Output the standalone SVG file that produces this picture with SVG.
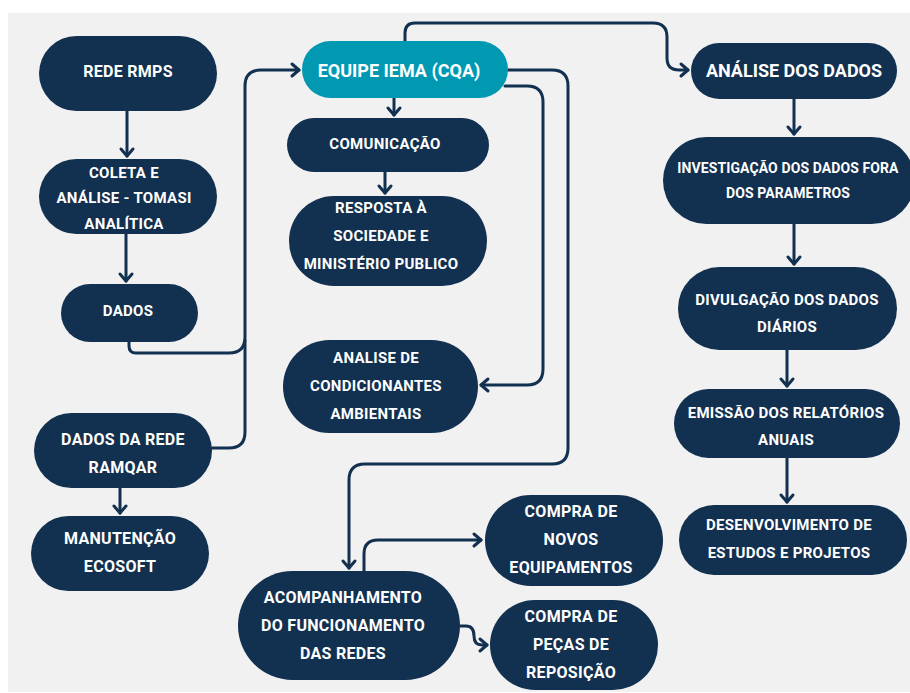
<svg xmlns="http://www.w3.org/2000/svg" width="910" height="693" viewBox="0 0 910 693">
<style>
.n{fill:#12304f}
.t{fill:#ffffff;font-family:Roboto,"Liberation Sans",sans-serif;font-weight:700;font-size:15px;letter-spacing:0.3px;text-anchor:middle}
.t16{font-size:16px}
.c{fill:none;stroke:#12304f;stroke-width:3;stroke-linecap:round;stroke-linejoin:round}
</style>
<defs>
<marker id="a" markerUnits="userSpaceOnUse" orient="auto" markerWidth="20" markerHeight="20" refX="0" refY="0" viewBox="-10 -10 20 20" overflow="visible">
<path d="M-7,-6 L0,0 L-7,6" fill="none" stroke="#12304f" stroke-width="3" stroke-linecap="round" stroke-linejoin="round"/>
</marker>
</defs>
<rect x="0" y="0" width="910" height="693" fill="#ffffff"/>
<rect x="8" y="13" width="902" height="679" fill="#f1f1f1"/>
<g id="connectors">
<path class="c" marker-end="url(#a)" d="M127,111 V156"/>
<path class="c" marker-end="url(#a)" d="M126,234 V281"/>
<path class="c" marker-end="url(#a)" d="M129,342 V346 Q129,353 136,353 H229 Q245,353 245,337 V86 Q245,70 261,70 H299"/>
<path class="c" d="M212,448 H229 Q245,448 245,432 V340"/>
<path class="c" marker-end="url(#a)" d="M120,488 V513"/>
<path class="c" marker-end="url(#a)" d="M394,98 V115"/>
<path class="c" marker-end="url(#a)" d="M385,172 V193"/>
<path class="c" marker-end="url(#a)" d="M505,86 H527 Q543,86 543,102 V369 Q543,385 527,385 H481"/>
<path class="c" marker-end="url(#a)" d="M508,70 H552 Q568,70 568,86 V448 Q568,464 552,464 H365 Q349,464 349,480 V568"/>
<path class="c" marker-end="url(#a)" d="M364,571 V554 Q364,540 378,540 H481"/>
<path class="c" marker-end="url(#a)" d="M460,626 H466 Q474,626 474,636 Q474,645 482,645 H487"/>
<path class="c" marker-end="url(#a)" d="M405,41 V33 Q405,23 415,23 H653 Q667,23 667,37 V58 Q667,70 679,70 H688"/>
<path class="c" marker-end="url(#a)" d="M794,99 V134"/>
<path class="c" marker-end="url(#a)" d="M794,224 V264"/>
<path class="c" marker-end="url(#a)" d="M787,350 V386"/>
<path class="c" marker-end="url(#a)" d="M787,458 V502"/>
</g>
<g id="rede-rmps"><rect class="n" x="39" y="36" width="178" height="75" rx="37.5"/><text class="t t16" x="128" y="77">REDE RMPS</text></g>
<g id="coleta"><rect class="n" x="39" y="159" width="178" height="75" rx="37.5"/><text class="t" x="124" y="177.5">COLETA E</text><text class="t" x="124" y="203">ANÁLISE - TOMASI</text><text class="t" x="124" y="228.5">ANALÍTICA</text></g>
<g id="dados"><rect class="n" x="61" y="284" width="137" height="58" rx="29"/><text class="t" x="128" y="315.5">DADOS</text></g>
<g id="equipe"><rect x="302" y="41" width="206" height="57" rx="28.5" fill="#0199b2"/><text class="t" x="399" y="76.5" style="font-size:18px;letter-spacing:0">EQUIPE IEMA (CQA)</text></g>
<g id="comunicacao"><rect class="n" x="287" y="118" width="202" height="54" rx="27"/><text class="t" x="385" y="148.5">COMUNICAÇÃO</text></g>
<g id="resposta"><rect class="n" x="289" y="196" width="198" height="90" rx="45"/><text class="t" x="381" y="212.5">RESPOSTA À</text><text class="t" x="381" y="240.5">SOCIEDADE E</text><text class="t" x="381" y="268.5">MINISTÉRIO PUBLICO</text></g>
<g id="condicionantes"><rect class="n" x="283" y="340" width="195" height="93" rx="46.5"/><text class="t" x="376" y="362.5">ANALISE DE</text><text class="t" x="376" y="390.5">CONDICIONANTES</text><text class="t" x="376" y="418.5">AMBIENTAIS</text></g>
<g id="ramqar"><rect class="n" x="34" y="413" width="178" height="75" rx="37.5"/><text class="t t16" x="123" y="445">DADOS DA REDE</text><text class="t t16" x="123" y="473">RAMQAR</text></g>
<g id="ecosoft"><rect class="n" x="31" y="516" width="178" height="75" rx="37.5"/><text class="t t16" x="120" y="544">MANUTENÇÃO</text><text class="t t16" x="120" y="572">ECOSOFT</text></g>
<g id="acompanhamento"><rect class="n" x="238" y="571" width="222" height="109" rx="54.5"/><text class="t t16" x="343" y="603">ACOMPANHAMENTO</text><text class="t t16" x="343" y="631">DO FUNCIONAMENTO</text><text class="t t16" x="343" y="659">DAS REDES</text></g>
<g id="novos"><rect class="n" x="485" y="495" width="178" height="91" rx="45.5"/><text class="t t16" x="571" y="517">COMPRA DE</text><text class="t t16" x="571" y="545">NOVOS</text><text class="t t16" x="571" y="573">EQUIPAMENTOS</text></g>
<g id="pecas"><rect class="n" x="490" y="600" width="168" height="90" rx="45"/><text class="t t16" x="571" y="622">COMPRA DE</text><text class="t t16" x="571" y="650">PEÇAS DE</text><text class="t t16" x="571" y="678">REPOSIÇÃO</text></g>
<g id="analise-dados"><rect class="n" x="691" y="43" width="206" height="56" rx="28"/><text class="t" x="794" y="76.5" style="font-size:18px;letter-spacing:0">ANÁLISE DOS DADOS</text></g>
<g id="investigacao"><rect class="n" x="663" y="137" width="252" height="87" rx="43.5"/><text class="t" x="788" y="173" style="font-size:14px;letter-spacing:0.1px">INVESTIGAÇÃO DOS DADOS FORA</text><text class="t" x="788" y="198" style="font-size:14px;letter-spacing:0.1px">DOS PARAMETROS</text></g>
<g id="divulgacao"><rect class="n" x="678" y="267" width="219" height="83" rx="41.5"/><text class="t" x="787" y="304.5">DIVULGAÇÃO DOS DADOS</text><text class="t" x="787" y="331.5">DIÁRIOS</text></g>
<g id="emissao"><rect class="n" x="674" y="389" width="226" height="69" rx="34.5"/><text class="t" x="786" y="417.5">EMISSÃO DOS RELATÓRIOS</text><text class="t" x="786" y="444.5">ANUAIS</text></g>
<g id="desenvolvimento"><rect class="n" x="679" y="505" width="228" height="70" rx="35"/><text class="t" x="789" y="529.5">DESENVOLVIMENTO DE</text><text class="t" x="789" y="557.5">ESTUDOS E PROJETOS</text></g>
</svg>
